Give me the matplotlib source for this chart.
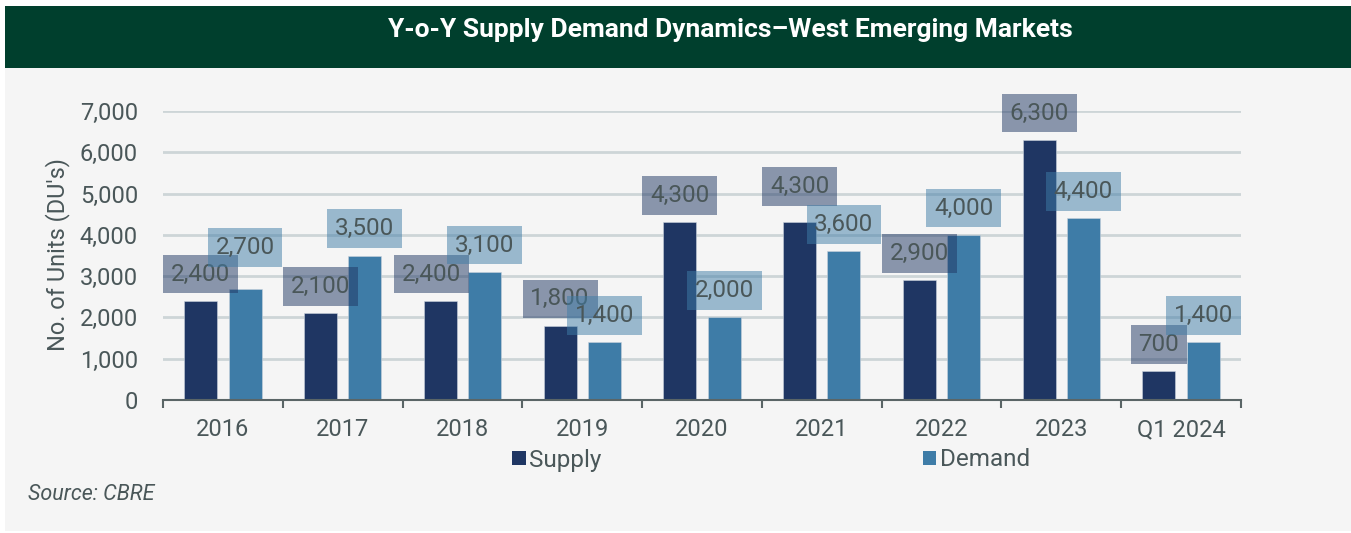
import matplotlib
matplotlib.use("Agg")
import matplotlib.pyplot as plt
from matplotlib.patches import Rectangle, Patch
import numpy as np

categories = ["2016", "2017", "2018", "2019", "2020", "2021", "2022", "2023", "Q1 2024"]
supply = [2400, 2100, 2400, 1800, 4300, 4300, 2900, 6300, 700]
demand = [2700, 3500, 3100, 1400, 2000, 3600, 4000, 4400, 1400]
yticks = [0, 1000, 2000, 3000, 4000, 5000, 6000, 7000]

SUPPLY_C = "#1f3663"
DEMAND_C = "#3e7ca7"
TEXT_C = "#4a5759"
GRID_C = "#cdd5d7"
BG = "#f5f5f5"
HEADER = "#003f2d"

plt.rcParams['font.family'] = ['Roboto', 'DejaVu Sans']

W, H = 1351, 533
fig = plt.figure(figsize=(W / 100, H / 100), dpi=100)
fig.patch.set_facecolor("white")

# background panel and header
fig.patches.append(Rectangle((5 / W, 0.004), 1 - 5 / W, 1 - 0.004 - 68 / H,
                             transform=fig.transFigure, facecolor=BG, edgecolor="none", zorder=-2))
fig.patches.append(Rectangle((5 / W, 1 - 68 / H), 1 - 5 / W, 62 / H,
                             transform=fig.transFigure, facecolor=HEADER, edgecolor="none", zorder=-2))
fig.text(730 / W, 1 - 37 / H, "Y-o-Y Supply Demand Dynamics\u2013West Emerging Markets",
         color="white", fontsize=19, fontweight="bold", ha="center", va="baseline")

ax = fig.add_axes([163 / W, 1 - 400 / H, (1241 - 163) / W, (400 - 111) / H])
ax.set_zorder(2)
ax.set_facecolor("none")

x = np.arange(len(categories))
bw = 0.275
off = 0.185
ax.bar(x - off, supply, bw, color=SUPPLY_C, zorder=2, edgecolor="#c9d2dc", linewidth=0.4)
ax.bar(x + off, demand, bw, color=DEMAND_C, zorder=2, edgecolor="#c9d2dc", linewidth=0.4)

ax.set_xlim(-0.5, len(categories) - 0.5)
ax.set_ylim(0, 7000)
ax.set_yticks(yticks)
ax.set_yticklabels([f"{v:,}" for v in yticks])
ax.set_xticks(x)
ax.set_xticklabels(categories)
ax.set_xticks(np.arange(-0.5, len(categories)), minor=True)
ax.tick_params(axis="x", which="major", length=0, pad=13, labelsize=17, labelcolor=TEXT_C)
ax.tick_params(axis="x", which="minor", length=6, width=1.5, color="#5a6566", direction="out")
ax.tick_params(axis="y", length=0, pad=18, labelsize=17, labelcolor=TEXT_C)

for s in ["top", "right", "left"]:
    ax.spines[s].set_visible(False)
ax.spines["bottom"].set_color("#5a6566")
ax.spines["bottom"].set_linewidth(1.5)
ax.spines["bottom"].set_zorder(3)
ax.yaxis.grid(True, color=GRID_C, linewidth=2.0, zorder=1)
ax.set_axisbelow(True)

ax.set_ylabel("No. of Units (DU's)", fontsize=17, color=TEXT_C)
ax.yaxis.set_label_coords((70 - 163) / (1241 - 163), 0.505)

# data labels
base = 650
sup_dy = {5: 870}
dem_dy = {0: 1000}
sup_dx = {2: -0.07}
for i, v in enumerate(supply):
    ax.text(x[i] - off + sup_dx.get(i, 0), v + sup_dy.get(i, base), f"{v:,}",
            ha="center", va="center", fontsize=17.5, color=TEXT_C, zorder=5, clip_on=False,
            bbox=dict(boxstyle="square,pad=0.32", facecolor=SUPPLY_C, alpha=0.5, edgecolor="none"))
for i, v in enumerate(demand):
    ax.text(x[i] + off, v + dem_dy.get(i, base), f"{v:,}",
            ha="center", va="center", fontsize=17.5, color=TEXT_C, zorder=5, clip_on=False,
            bbox=dict(boxstyle="square,pad=0.32", facecolor=DEMAND_C, alpha=0.5, edgecolor="none"))

handles = [Patch(facecolor=SUPPLY_C, label="Supply"), Patch(facecolor=DEMAND_C, label="Demand")]
leg = fig.legend(handles=handles, loc="center", bbox_to_anchor=(771 / W, 1 - 460 / H),
                 ncol=2, frameon=False, fontsize=17.5, handlelength=0.55, handleheight=0.55,
                 handletextpad=0.15, columnspacing=13.2)
for t in leg.get_texts():
    t.set_color(TEXT_C)

fig.text(28 / W, 1 - 495 / H, "Source: CBRE", fontsize=15.5, style="italic",
         color=TEXT_C, ha="left", va="center")

fig.savefig("out.png", dpi=100, facecolor=fig.get_facecolor())
